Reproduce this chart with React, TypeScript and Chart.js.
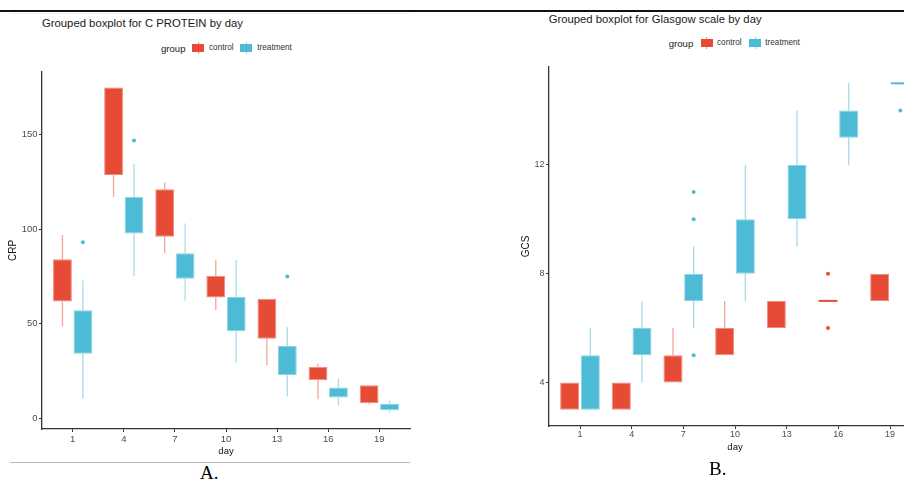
import React, { useEffect, useRef } from "react";
import { Chart, registerables } from "chart.js";

Chart.register(...registerables);

const FONT = "'Liberation Sans', Arial, sans-serif";
const RED = "#E64B35";
const BLUE = "#4DBBD5";
const RED_EDGE = "rgba(230,75,53,0.65)";
const BLUE_EDGE = "rgba(77,187,213,0.65)";
const RED_WHISKER = "rgba(230,75,53,0.5)";
const BLUE_WHISKER = "rgba(77,187,213,0.5)";

// shared categories
const days = ["1", "4", "7", "10", "13", "16", "19"];
const groupNames = ["control", "treatment"];

// ---- Panel A: C PROTEIN (CRP) ----  five numbers: [min, q1, median, q3, max]
const crpControl = [
  [48.6, 61.8, 72, 84.1, 96.9],
  [117, 128.7, 150, 175.1, 175.1],
  [87.3, 96, 108, 121.2, 124.7],
  [57.1, 63.9, 69, 75.3, 83.8],
  [28.1, 42, 52, 63.2, 63.2],
  [10, 20, 24, 27.2, 28.8],
  [7.2, 7.9, 12, 17.4, 17.4],
];
const crpTreatment = [
  [10.4, 34.1, 45, 57.1, 72.9],
  [75.3, 97.8, 106, 117.1, 134.7],
  [62.2, 73.8, 80, 87.3, 103.1],
  [29.3, 46, 54, 64.1, 83.8],
  [11.4, 22.8, 30, 38.1, 48.1],
  [6.5, 10.9, 13, 16.2, 21.1],
  [3, 4.1, 5.5, 7.4, 9.1],
];
const crpControlOutliers: number[][] = [[], [], [], [], [], [], []];
const crpTreatmentOutliers: number[][] = [[93.1], [147], [], [], [75], [], []];
const crpTicks = [0, 50, 100, 150];

// ---- Panel B: Glasgow scale (GCS) ----
const gcsControl = [
  [3, 3, 3.5, 4, 4],
  [3, 3, 3.5, 4, 4],
  [4, 4, 4.5, 5, 6],
  [5, 5, 5.5, 6, 7],
  [6, 6, 6.5, 7, 7],
  [7, 7, 7, 7, 7],
  [7, 7, 7.5, 8, 8],
];
const gcsTreatment = [
  [3, 3, 4, 5, 6],
  [4, 5, 5.5, 6, 7],
  [6, 7, 7.5, 8, 9],
  [7, 8, 9, 10, 12],
  [9, 10, 11, 12, 14],
  [12, 13, 13.5, 14, 15],
  [15, 15, 15, 15, 15],
];
const gcsControlOutliers: number[][] = [[], [], [], [], [], [6, 8], []];
const gcsTreatmentOutliers: number[][] = [[], [], [5, 10, 11], [], [], [], [14]];
const gcsTicks = [4, 8, 12];

type BoxSet = { boxes: number[][]; outliers: number[][]; color: string; whisker: string };

function makeBoxPlugin(sets: BoxSet[]) {
  const clipArea = (chart: any) => {
    const a = chart.chartArea;
    chart.ctx.beginPath();
    chart.ctx.rect(a.left, a.top, a.right - a.left, a.bottom - a.top);
    chart.ctx.clip();
  };
  return {
    id: "boxWhiskers",
    beforeDatasetsDraw(chart: any) {
      const { ctx } = chart;
      const ys = chart.scales.y;
      ctx.save();
      clipArea(chart);
      sets.forEach((s, di) => {
        const meta = chart.getDatasetMeta(di);
        meta.data.forEach((el: any, j: number) => {
          const [mn, q1, , q3, mx] = s.boxes[j];
          const x = el.x;
          ctx.strokeStyle = s.whisker;
          ctx.lineWidth = 1.3;
          ctx.beginPath();
          if (mx > q3) {
            ctx.moveTo(x, ys.getPixelForValue(q3));
            ctx.lineTo(x, ys.getPixelForValue(mx));
          }
          if (mn < q1) {
            ctx.moveTo(x, ys.getPixelForValue(q1));
            ctx.lineTo(x, ys.getPixelForValue(mn));
          }
          ctx.stroke();
        });
      });
      ctx.restore();
    },
    afterDatasetsDraw(chart: any) {
      const { ctx } = chart;
      const ys = chart.scales.y;
      ctx.save();
      clipArea(chart);
      sets.forEach((s, di) => {
        const meta = chart.getDatasetMeta(di);
        meta.data.forEach((el: any, j: number) => {
          const [, q1, md, q3] = s.boxes[j];
          const x = el.x;
          const w = el.width;
          if (q1 === q3) {
            ctx.strokeStyle = s.color;
            ctx.lineWidth = 2;
            ctx.beginPath();
            const py = ys.getPixelForValue(md);
            ctx.moveTo(x - w / 2, py);
            ctx.lineTo(x + w / 2, py);
            ctx.stroke();
          }
          ctx.fillStyle = s.color;
          s.outliers[j].forEach((v) => {
            ctx.beginPath();
            ctx.arc(x, ys.getPixelForValue(v), 2, 0, Math.PI * 2);
            ctx.fill();
          });
        });
      });
      ctx.restore();
    },
  };
}

type PanelProps = {
  left: number;
  top: number;
  width: number;
  height: number;
  control: number[][];
  treatment: number[][];
  controlOut: number[][];
  treatmentOut: number[][];
  yTicks: number[];
  yMin: number;
  yMax: number;
  yTitle: string;
  padding: { left: number; right: number; top: number; bottom: number };
  yWidth: number;
  xHeight: number;
  yTitlePad: number;
  xTitlePad: number;
  tickFont: number;
  xTickPad: number;
};

function BoxPanel(p: PanelProps) {
  const ref = useRef<HTMLCanvasElement | null>(null);
  useEffect(() => {
    if (!ref.current) return;
    const toData = (arr: number[][]) => arr.map((b, i) => ({ x: i + 1, y: [b[1], b[3]] }));
    const chart = new Chart(ref.current, {
      type: "bar",
      data: {
        datasets: [
          {
            label: groupNames[0],
            data: toData(p.control) as any,
            backgroundColor: RED,
            borderColor: RED_EDGE,
            borderWidth: 1,
            borderSkipped: false,
            categoryPercentage: 0.8,
            barPercentage: 0.92,
          },
          {
            label: groupNames[1],
            data: toData(p.treatment) as any,
            backgroundColor: BLUE,
            borderColor: BLUE_EDGE,
            borderWidth: 1,
            borderSkipped: false,
            categoryPercentage: 0.8,
            barPercentage: 0.92,
          },
        ],
      },
      options: {
        animation: false,
        responsive: false,
        devicePixelRatio: 1,
        layout: { padding: p.padding },
        plugins: { legend: { display: false }, tooltip: { enabled: false }, title: { display: false } },
        scales: {
          x: {
            type: "linear",
            min: 0.4,
            max: days.length + 0.6,
            offset: false,
            afterBuildTicks: (s: any) => {
              s.ticks = days.map((_, i) => ({ value: i + 1 }));
            },
            afterFit: (s: any) => {
              s.height = p.xHeight;
            },
            ticks: {
              callback: (v: any) => days[Number(v) - 1],
              color: "#4d4d4d",
              font: { family: FONT, size: p.tickFont },
              padding: p.xTickPad,
              maxRotation: 0,
              autoSkip: false,
            },
            grid: { display: true, drawOnChartArea: false, drawTicks: true, tickLength: 3, color: "#333", offset: false },
            border: { display: true, color: "#333", width: 1.3 },
            title: {
              display: true,
              text: "day",
              color: "#111",
              font: { family: FONT, size: 9.5 },
              padding: { top: 0, bottom: p.xTitlePad },
            },
          },
          y: {
            type: "linear",
            min: p.yMin,
            max: p.yMax,
            afterBuildTicks: (s: any) => {
              s.ticks = p.yTicks.map((v) => ({ value: v }));
            },
            afterFit: (s: any) => {
              s.width = p.yWidth;
            },
            ticks: {
              color: "#4d4d4d",
              font: { family: FONT, size: p.tickFont },
              padding: 1.5,
            },
            grid: { display: true, drawOnChartArea: false, drawTicks: true, tickLength: 3, color: "#333" },
            border: { display: true, color: "#333", width: 1.3 },
            title: {
              display: true,
              text: p.yTitle,
              color: "#111",
              font: { family: FONT, size: 10 },
              padding: { top: p.yTitlePad, bottom: 0 },
            },
          },
        },
      },
      plugins: [
        makeBoxPlugin([
          { boxes: p.control, outliers: p.controlOut, color: RED, whisker: RED_WHISKER },
          { boxes: p.treatment, outliers: p.treatmentOut, color: BLUE, whisker: BLUE_WHISKER },
        ]),
      ],
    } as any);
    return () => chart.destroy();
  }, []);
  return (
    <canvas
      ref={ref}
      width={p.width}
      height={p.height}
      style={{ position: "absolute", left: p.left, top: p.top, width: p.width, height: p.height }}
    />
  );
}

function Key({ left, top, color }: { left: number; top: number; color: string }) {
  return (
    <div style={{ position: "absolute", left, top, width: 12, height: 10 }}>
      <div style={{ position: "absolute", left: 5.5, top: -1, width: 1, height: 12, background: color, opacity: 0.6 }} />
      <div style={{ position: "absolute", left: 0, top: 1, width: 12, height: 8, background: color }} />
    </div>
  );
}

function Legend({ x, cy }: { x: number[]; cy: number }) {
  const txt = (left: number, size: number, text: string, color: string) => (
    <div
      style={{
        position: "absolute",
        left,
        top: cy - size / 2,
        fontSize: size,
        lineHeight: `${size}px`,
        fontFamily: FONT,
        color,
        whiteSpace: "nowrap",
      }}
    >
      {text}
    </div>
  );
  return (
    <>
      {txt(x[0], 9.6, "group", "#222")}
      <Key left={x[1]} top={cy - 5} color={RED} />
      {txt(x[2], 8.2, groupNames[0], "#333")}
      <Key left={x[3]} top={cy - 5} color={BLUE} />
      {txt(x[4], 8.2, groupNames[1], "#333")}
    </>
  );
}

function Title({ left, cy, text }: { left: number; cy: number; text: string }) {
  return (
    <div
      style={{
        position: "absolute",
        left,
        top: cy - 5.65,
        fontSize: 11.3,
        lineHeight: "11.3px",
        fontFamily: FONT,
        color: "#1a1a1a",
        whiteSpace: "nowrap",
      }}
    >
      {text}
    </div>
  );
}

export default function App() {
  return (
    <div
      style={{
        position: "fixed",
        left: 0,
        top: 0,
        width: 904,
        height: 482,
        overflow: "hidden",
        background: "#fff",
      }}
    >
      <div style={{ position: "absolute", left: 0, top: 9.5, width: 904, height: 2, background: "#111" }} />
      <div style={{ position: "absolute", left: 10, top: 13, width: 400, height: 1, background: "#eee" }} />
      <div style={{ position: "absolute", left: 10, top: 461.5, width: 400, height: 1, background: "#bbb" }} />

      <Title left={42} cy={23.5} text="Grouped boxplot for C PROTEIN by day" />
      <Legend x={[161, 192, 209, 240, 257.3]} cy={48.3} />
      <BoxPanel
        left={0}
        top={60}
        width={430}
        height={400}
        control={crpControl}
        treatment={crpTreatment}
        controlOut={crpControlOutliers}
        treatmentOut={crpTreatmentOutliers}
        yTicks={crpTicks}
        yMin={-5.8}
        yMax={183.3}
        yTitle="CRP"
        padding={{ left: 0, right: 20, top: 12, bottom: 0 }}
        yWidth={42}
        xHeight={31}
        yTitlePad={7.5}
        xTitlePad={2.6}
        tickFont={9.5}
        xTickPad={1.5}
      />

      <Title left={548.7} cy={19.5} text="Grouped boxplot for Glasgow scale by day" />
      <Legend x={[668.7, 700.5, 717, 749, 765.3]} cy={43.3} />
      <BoxPanel
        left={500}
        top={40}
        width={440}
        height={420}
        control={gcsControl}
        treatment={gcsTreatment}
        controlOut={gcsControlOutliers}
        treatmentOut={gcsTreatmentOutliers}
        yTicks={gcsTicks}
        yMin={2.4}
        yMax={15.6}
        yTitle="GCS"
        padding={{ left: 0, right: 19, top: 27, bottom: 0 }}
        yWidth={49}
        xHeight={34}
        yTitlePad={20.7}
        xTitlePad={7}
        tickFont={9}
        xTickPad={0}
      />

      <div
        style={{
          position: "absolute",
          left: 200,
          top: 463,
          fontFamily: "'Liberation Serif', 'Times New Roman', serif",
          fontSize: 19,
          lineHeight: "20px",
          color: "#000",
        }}
      >
        A.
      </div>
      <div
        style={{
          position: "absolute",
          left: 709,
          top: 459,
          fontFamily: "'Liberation Serif', 'Times New Roman', serif",
          fontSize: 19,
          lineHeight: "20px",
          color: "#000",
        }}
      >
        B.
      </div>
    </div>
  );
}
